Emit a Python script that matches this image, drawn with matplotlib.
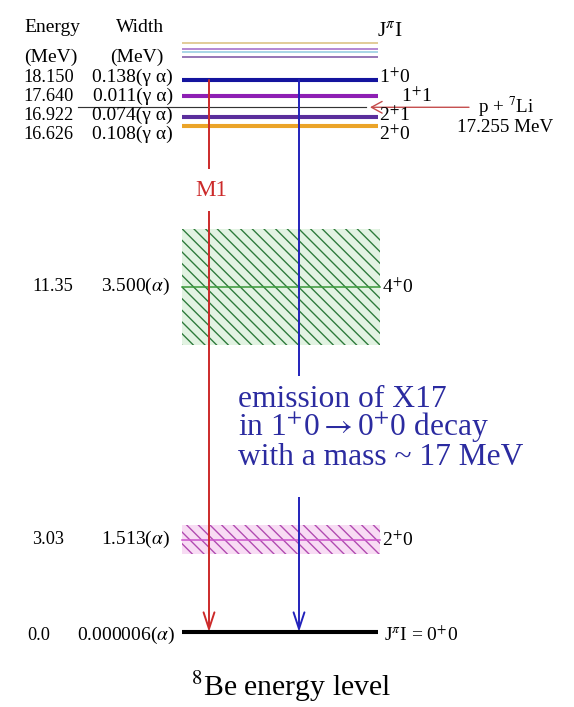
import numpy as np
import matplotlib
matplotlib.use('Agg')
import matplotlib.pyplot as plt
from matplotlib.patches import Rectangle

plt.rcParams['font.family'] = ['Liberation Serif', 'DejaVu Serif']
plt.rcParams['mathtext.fontset'] = 'stix'
plt.rcParams['hatch.linewidth'] = 0.7

SUP = '$^{{+}}$'

# 8Be levels near the p + 7Li threshold
top_energy = [18.150, 17.640, 16.922, 16.626]
top_width = ['0.138', '0.011', '0.074', '0.108']
top_jpi = ['1' + SUP + '0', '1' + SUP + '1', '2' + SUP + '1', '2' + SUP + '0']
top_colors = ['#14149e', '#8e1fb4', '#5a2e9c', '#eba428']

# faint unlabeled levels above 18.15 MeV
upper_energy = [19.37, 19.18, 19.08, 18.91]
upper_colors = ['#e2cc98', '#b486d2', '#a8d6e6', '#9676b6']

# broad levels
broad_energy = [11.35, 3.03]
broad_width = ['3.500', '1.513']
broad_jpi = ['4' + SUP + '0', '2' + SUP + '0']
broad_half = [1.9, 0.48]
broad_fill = ['#e2f3e2', '#f8dcf4']
broad_hatch = ['#2d7a3a', '#b04ab0']
broad_line = ['#3c9a3c', '#cc55cc']

ground_energy = 0.0
ground_width = '0.000006'
threshold = 17.255

x17_lines = ['emission of X17',
             'in 1' + SUP + '0$\\rightarrow$0' + SUP + '0 decay',
             'with a mass ~ 17 MeV']

fig = plt.figure(figsize=(574 / 140, 707 / 140), dpi=140)
ax = fig.add_axes([0, 0, 1, 1])
ax.set_xlim(0, 574)
ax.set_ylim((632 - 707) / 30.41, 632 / 30.41)
ax.axis('off')

x0, x1 = 182, 378
fs = 9.4
fsw = 10.0

# headers
ax.text(24, 19.87, 'Energy', fontsize=10, va='center')
ax.text(24, 18.9, '(MeV)', fontsize=10, va='center')
ax.text(116, 19.87, 'Width', fontsize=10, va='center')
ax.text(110, 18.9, '(MeV)', fontsize=10, va='center')
ax.text(377, 19.72, 'J$^{\\pi}$I', fontsize=11, va='center')

# faint upper levels
for e, c in zip(upper_energy, upper_colors):
    ax.plot([x0, x1], [e, e], color=c, lw=1.0, solid_capstyle='butt')

# threshold line and p + 7Li arrow
ax.plot([78, 366], [threshold, threshold], color='#333333', lw=0.6)
ax.annotate('', xy=(370, threshold), xytext=(469, threshold),
            arrowprops=dict(arrowstyle='->,head_length=0.55,head_width=0.3',
                            color='#c44a4a', lw=0.7, shrinkA=0, shrinkB=0))
ax.text(478, threshold, 'p + $^7$Li', fontsize=9.8, va='center')
ax.text(457, threshold - 0.68, '17.255 MeV', fontsize=9.8, va='center')

# top sharp levels
for i, (e, w, j, c) in enumerate(zip(top_energy, top_width, top_jpi, top_colors)):
    ax.plot([x0, x1], [e, e], color=c, lw=2.1, solid_capstyle='butt')
    ty = top_energy[0] + 0.1 - i * 0.63
    ax.text(23, ty, f'{e:.3f}', fontsize=fs, va='center')
    ax.text(173, ty, f'{w}(γ α)', fontsize=fsw, va='center', ha='right')
    ax.text(379 + (22 if i == 1 else 0), ty, j, fontsize=10, va='center')

# broad levels with hatched bands
for e, w, j, h, fc, hc, lc in zip(broad_energy, broad_width, broad_jpi, broad_half,
                                  broad_fill, broad_hatch, broad_line):
    ax.add_patch(Rectangle((x0, e - h), 380 - x0, 2 * h, facecolor=fc,
                           edgecolor='none', zorder=1))
    ax.add_patch(Rectangle((x0, e - h), 380 - x0, 2 * h, facecolor='none',
                           edgecolor=hc, lw=0, hatch='\\\\\\\\', zorder=1.1))
    ax.plot([x0, 380], [e, e], color=lc, lw=0.8, zorder=1.2)
    ax.text(32, e, f'{e:g}', fontsize=fs, va='center')
    ax.text(170, e, f'{w}($\\alpha$)', fontsize=fsw, va='center', ha='right')
    ax.text(382, e, j, fontsize=10, va='center')

# ground state
ax.plot([x0, x1], [ground_energy, ground_energy], color='black', lw=2.1,
        solid_capstyle='butt', zorder=3)
ax.text(27, ground_energy - 0.1, f'{ground_energy:.1f}', fontsize=fs, va='center')
ax.text(175, ground_energy - 0.1, f'{ground_width}($\\alpha$)', fontsize=fsw,
        va='center', ha='right')
ax.text(384, ground_energy - 0.1, 'J$^{\\pi}$I = 0' + SUP + '0', fontsize=10,
        va='center')

# transitions from 1+0 to ground
for x, c in [(209, '#cc2a2a'), (299, '#2222bb')]:
    ax.annotate('', xy=(x, ground_energy), xytext=(x, top_energy[0]),
                arrowprops=dict(arrowstyle='->,head_length=0.85,head_width=0.28',
                                color=c, lw=1.0, shrinkA=0, shrinkB=0),
                zorder=2)

ax.text(211, 14.53, 'M1', fontsize=11.8, color='#cc2a2a', ha='center', va='center',
        bbox=dict(boxstyle='square,pad=0.45', fc='white', ec='none'), zorder=4)

# X17 annotation, white box interrupts the blue line
ax.add_patch(Rectangle((285, (632 - 497) / 30.41), 30, 121 / 30.41,
                       facecolor='white', edgecolor='none', zorder=3))
for k, line in enumerate(x17_lines):
    ax.text(238, 7.66 - k * 0.96, line, fontsize=16.2, color='#2b2ba0',
            va='center', ha='left', zorder=4)

ax.text(291, -1.8, '$^8$Be energy level', fontsize=15.3, ha='center', va='center')

fig.savefig('out.png', dpi=140)
